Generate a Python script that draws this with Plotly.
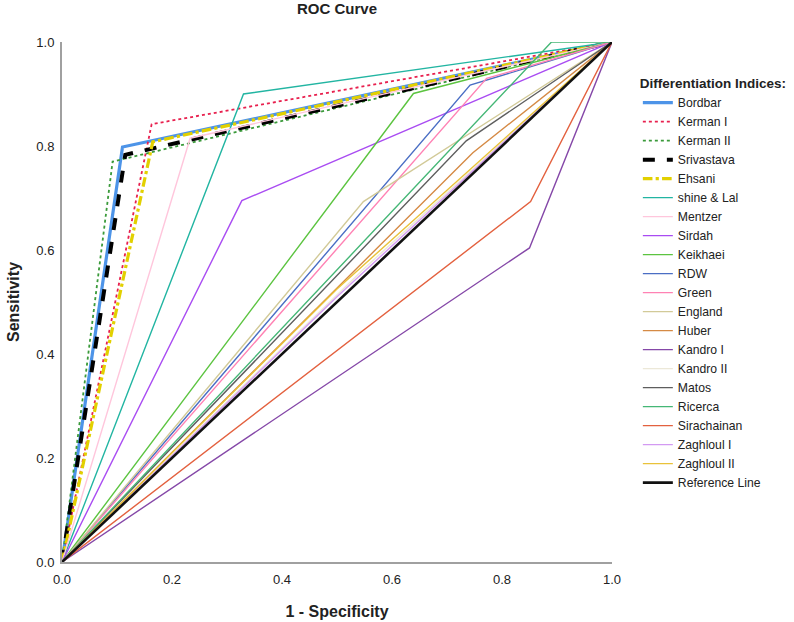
import plotly.graph_objects as go

indices = ["Bordbar", "Kerman I", "Kerman II", "Srivastava", "Ehsani", "shine & Lal",
           "Mentzer", "Sirdah", "Keikhaei", "RDW", "Green", "England", "Huber",
           "Kandro I", "Kandro II", "Matos", "Ricerca", "Sirachainan", "Zaghloul I",
           "Zaghloul II"]
fpr_cut = [0.110, 0.163, 0.092, 0.115, 0.165, 0.330, 0.233, 0.327, 0.639, 0.742,
           0.772, 0.548, 0.747, 0.850, 0.550, 0.735, 0.890, 0.852, 0.500, 0.500]
tpr_cut = [0.798, 0.842, 0.770, 0.783, 0.808, 0.900, 0.815, 0.695, 0.901, 0.917,
           0.930, 0.693, 0.787, 0.604, 0.565, 0.810, 1.000, 0.693, 0.510, 0.525]
ref_x = [0.0, 1.0]
ref_y = [0.0, 1.0]

colors = ["#4d94e8", "#e8204e", "#3a9a3a", "#000000", "#e2d000", "#22b5a2",
          "#ffc6dc", "#a94cf2", "#5cc440", "#4a6ec4", "#ff82b4", "#d2ca98", "#d58a45",
          "#8548a8", "#ece8d8", "#5e5e5e", "#45b776", "#e3613f", "#d39af2", "#e9c23a"]
dashes = ["solid", "dot", "dot", "dash", "dashdot"] + ["solid"] * 15
widths = [3.2, 1.8, 1.8, 4, 3.2] + [1.4] * 15

fig = go.Figure()
for i, name in enumerate(indices):
    fig.add_trace(go.Scatter(
        x=[0.0, fpr_cut[i], 1.0], y=[0.0, tpr_cut[i], 1.0], mode="lines", name=name,
        line=dict(color=colors[i], width=widths[i], dash=dashes[i])))
fig.add_trace(go.Scatter(x=ref_x, y=ref_y, mode="lines", name="Reference Line",
                         line=dict(color="#111111", width=2.6)))

fig.update_layout(
    width=794, height=622,
    margin=dict(l=62, r=182, t=42, b=60, autoexpand=False),
    paper_bgcolor="white", plot_bgcolor="white",
    font=dict(family="Liberation Sans, Arial, sans-serif", size=13, color="#222222"),
    title=dict(text="<b>ROC Curve</b>", x=(62 + 275) / 794, xanchor="center",
               y=0.995, yanchor="top", font=dict(size=15, color="#222222")),
    legend=dict(x=1.047, y=0.945, xanchor="left", yanchor="top",
                title=dict(text="<b>Differentiation Indices:</b>", font=dict(size=13.5)),
                font=dict(size=12.2, color="#222222"), tracegroupgap=0,
                bgcolor="rgba(0,0,0,0)"),
    annotations=[dict(text="<b>Sensitivity</b>", xref="paper", yref="paper",
                      x=(13 - 62) / 550, y=0.5, xanchor="center", yanchor="middle",
                      textangle=-90, showarrow=False, font=dict(size=16))],
)
fig.update_xaxes(range=[0, 1], tickvals=[0, 0.2, 0.4, 0.6, 0.8, 1.0], tickformat=".1f",
                 showgrid=False, zeroline=False, showline=True, linecolor="#a0a0a0",
                 linewidth=2, ticks="", tickfont=dict(size=13), ticklabelstandoff=4,
                 title=dict(text="<b>1 - Specificity</b>", font=dict(size=16), standoff=20))
fig.update_yaxes(range=[0, 1], tickvals=[0, 0.2, 0.4, 0.6, 0.8, 1.0], tickformat=".1f",
                 showgrid=False, zeroline=False, showline=True, linecolor="#a0a0a0",
                 linewidth=2, ticks="", tickfont=dict(size=13), ticklabelstandoff=3)

fig.write_html("out.html", config={"displayModeBar": False},
               post_script="document.body.style.margin='0';")
